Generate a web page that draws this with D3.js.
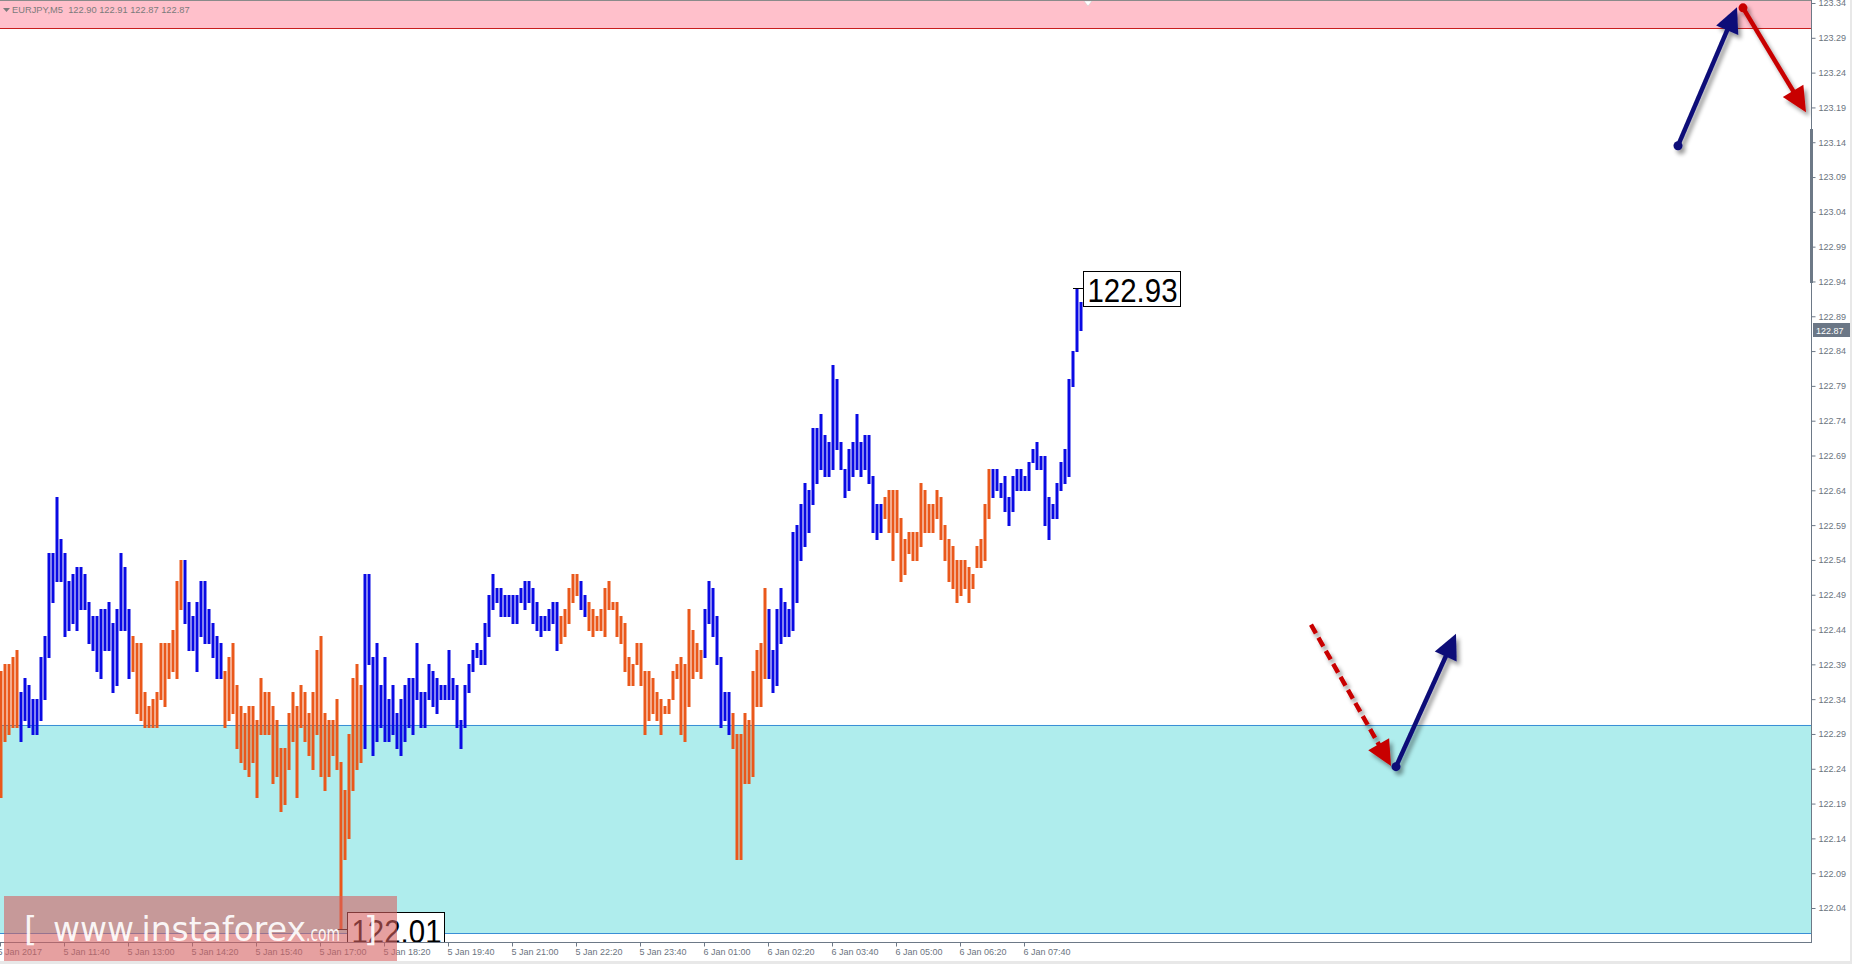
<!DOCTYPE html>
<html><head><meta charset="utf-8">
<script src="https://cdn.jsdelivr.net/npm/d3@7"></script>
<style>html,body{margin:0;padding:0;background:#fff;overflow:hidden}</style>
</head><body><svg id="c" width="1852" height="964"></svg>
<script>
// ---------------- data ----------------
const symbol = "EURJPY,M5";
const ohlc = [122.90, 122.91, 122.87, 122.87];
const barHigh = [
122.38,122.39,122.39,122.40,122.41,122.35,122.37,122.36,122.34,122.34,
122.40,122.43,122.55,122.55,122.63,122.57,122.55,122.51,122.52,122.53,
122.53,122.52,122.48,122.46,122.46,122.47,122.47,122.48,122.45,122.47,
122.55,122.53,122.47,122.43,122.42,122.42,122.35,122.33,122.34,122.35,
122.42,122.42,122.42,122.44,122.51,122.54,122.54,122.48,122.46,122.48,
122.51,122.51,122.47,122.45,122.43,122.42,122.38,122.40,122.42,122.36,
122.33,122.32,122.33,122.33,122.31,122.37,122.35,122.35,122.33,122.31,
122.27,122.27,122.32,122.35,122.33,122.36,122.35,122.32,122.35,122.41,
122.43,122.32,122.31,122.31,122.34,122.25,122.21,122.29,122.37,122.39,
122.36,122.52,122.52,122.40,122.42,122.36,122.40,122.34,122.36,122.32,
122.34,122.36,122.37,122.37,122.42,122.35,122.35,122.39,122.38,122.37,
122.36,122.36,122.41,122.37,122.36,122.31,122.36,122.39,122.41,122.42,
122.41,122.45,122.49,122.52,122.50,122.50,122.49,122.49,122.49,122.49,
122.50,122.51,122.51,122.50,122.48,122.46,122.46,122.47,122.48,122.48,
122.46,122.47,122.50,122.52,122.52,122.51,122.49,122.48,122.47,122.46,
122.47,122.50,122.51,122.48,122.48,122.46,122.45,122.40,122.39,122.42,
122.42,122.38,122.38,122.37,122.35,122.34,122.33,122.34,122.38,122.39,
122.40,122.39,122.47,122.44,122.42,122.41,122.47,122.51,122.50,122.46,
122.40,122.35,122.35,122.32,122.29,122.29,122.32,122.31,122.38,122.41,
122.42,122.50,122.47,122.41,122.47,122.50,122.48,122.47,122.58,122.59,
122.62,122.65,122.64,122.73,122.73,122.75,122.72,122.71,122.82,122.80,
122.71,122.67,122.70,122.71,122.75,122.71,122.72,122.72,122.66,122.62,
122.62,122.63,122.64,122.64,122.64,122.60,122.57,122.58,122.58,122.58,
122.65,122.64,122.62,122.62,122.64,122.63,122.59,122.57,122.56,122.54,
122.54,122.54,122.53,122.52,122.56,122.57,122.62,122.67,122.67,122.67,
122.65,122.66,122.63,122.66,122.67,122.67,122.66,122.68,122.70,122.71,
122.69,122.69,122.63,122.62,122.65,122.68,122.70,122.80,122.84,122.93,
122.91];
const barLow = [
122.20,122.28,122.29,122.30,122.30,122.28,122.31,122.30,122.29,122.29,
122.31,122.34,122.40,122.48,122.51,122.51,122.43,122.44,122.45,122.44,
122.47,122.47,122.42,122.41,122.38,122.37,122.41,122.41,122.35,122.36,
122.44,122.44,122.37,122.38,122.32,122.31,122.30,122.30,122.30,122.30,
122.34,122.33,122.37,122.38,122.37,122.47,122.45,122.41,122.41,122.38,
122.43,122.42,122.42,122.40,122.37,122.37,122.30,122.31,122.32,122.27,
122.25,122.24,122.23,122.25,122.20,122.29,122.29,122.29,122.22,122.23,
122.18,122.19,122.24,122.28,122.20,122.30,122.28,122.26,122.24,122.29,
122.23,122.21,122.23,122.26,122.24,122.01,122.11,122.14,122.21,122.24,
122.25,122.27,122.39,122.26,122.28,122.30,122.28,122.28,122.29,122.27,
122.26,122.28,122.30,122.29,122.34,122.30,122.30,122.34,122.33,122.32,
122.34,122.34,122.34,122.34,122.30,122.27,122.30,122.35,122.38,122.40,
122.39,122.39,122.43,122.47,122.48,122.46,122.46,122.46,122.45,122.45,
122.48,122.47,122.48,122.45,122.44,122.43,122.44,122.44,122.45,122.41,
122.42,122.43,122.45,122.48,122.49,122.47,122.46,122.44,122.43,122.44,
122.44,122.43,122.47,122.47,122.43,122.42,122.38,122.36,122.36,122.39,
122.36,122.29,122.31,122.32,122.31,122.29,122.32,122.32,122.34,122.37,
122.29,122.28,122.33,122.37,122.38,122.37,122.40,122.45,122.43,122.39,
122.30,122.31,122.29,122.27,122.11,122.11,122.22,122.22,122.23,122.33,
122.33,122.37,122.37,122.35,122.36,122.42,122.43,122.43,122.44,122.48,
122.54,122.56,122.58,122.62,122.65,122.67,122.66,122.66,122.67,122.70,
122.67,122.63,122.64,122.66,122.67,122.66,122.67,122.65,122.58,122.57,
122.58,122.60,122.58,122.54,122.58,122.51,122.52,122.55,122.54,122.54,
122.56,122.58,122.58,122.58,122.60,122.57,122.54,122.51,122.50,122.48,
122.49,122.50,122.48,122.50,122.53,122.53,122.54,122.60,122.63,122.64,
122.63,122.61,122.59,122.61,122.64,122.64,122.64,122.64,122.68,122.67,
122.67,122.59,122.57,122.60,122.60,122.64,122.65,122.66,122.79,122.84,
122.87];
// wave segments: first bar index of each swing and its direction
const segStart = [0, 5, 33, 46, 56, 91, 140, 145, 147, 176, 183, 192, 221, 248];
const segDir   = ["down","up","down","up","down","up","down","up","down","up","down","up","down","up"];
const timeLabels = ["5 Jan 2017","5 Jan 11:40","5 Jan 13:00","5 Jan 14:20","5 Jan 15:40","5 Jan 17:00",
  "5 Jan 18:20","5 Jan 19:40","5 Jan 21:00","5 Jan 22:20","5 Jan 23:40","6 Jan 01:00","6 Jan 02:20",
  "6 Jan 03:40","6 Jan 05:00","6 Jan 06:20","6 Jan 07:40"];
const barsPerLabel = 16;
const priceTickLabels = ["122.04","122.09","122.14","122.19","122.24","122.29","122.34","122.39","122.44",
  "122.49","122.54","122.59","122.64","122.69","122.74","122.79","122.84","122.89","122.94","122.99",
  "123.04","123.09","123.14","123.19","123.24","123.29","123.34"];
const resistanceZone = [123.304, 123.40];
const supportZone = [122.004, 122.303];
const currentPrice = 122.87;
const highMark = {bar: 269, price: 122.93, text: "122.93"};
const lowMark  = {bar: 85,  price: 122.01, text: "122.01"};
// forecast arrows [barFrom, priceFrom, barTo, priceTo]
const arrowUp1   = [419.5, 123.135, 434.25, 123.334];
const arrowDown1 = [435.75, 123.333, 451.5, 123.183];
const arrowDash  = [327.75, 122.447, 347.75, 122.244];
const arrowUp2   = [349, 122.243, 364, 122.434];

// ---------------- layout ----------------
const W = 1852, H = 964;
const plotR = 1811, plotB = 942;
const svg = d3.select("#c");
const x = d3.scaleLinear().domain([0, 270]).range([0, 1080]);
const y = d3.scaleLinear().domain([122.04, 123.34]).range([908, 3]);

const BLUE = "#0a0ae4", ORANGE = "#ea581b", NAVY = "#0d0d78", RED = "#c80000";
const AX = "#6d7987";

const defs = svg.append("defs");
defs.append("clipPath").attr("id","plot").append("rect").attr("x",0).attr("y",0).attr("width",plotR).attr("height",plotB);
const f = defs.append("filter").attr("id","sh").attr("x","-50%").attr("y","-50%").attr("width","200%").attr("height","200%");
f.append("feGaussianBlur").attr("in","SourceAlpha").attr("stdDeviation",2.2);
f.append("feOffset").attr("dx",3).attr("dy",4).attr("result","o");
f.append("feComponentTransfer").attr("in","o").attr("result","s").append("feFuncA").attr("type","linear").attr("slope",0.4);
const fm = f.append("feMerge"); fm.append("feMergeNode").attr("in","s"); fm.append("feMergeNode").attr("in","SourceGraphic");

svg.append("rect").attr("width",W).attr("height",H).attr("fill","#fff");
const plot = svg.append("g").attr("clip-path","url(#plot)");

// zones
plot.append("rect").attr("x",0).attr("width",plotR)
  .attr("y", y(resistanceZone[1])).attr("height", y(resistanceZone[0]) - y(resistanceZone[1]))
  .attr("fill","#ffc0cb");
plot.append("line").attr("x1",0).attr("x2",plotR).attr("y1",Math.round(y(resistanceZone[0]))+0.5).attr("y2",Math.round(y(resistanceZone[0]))+0.5)
  .attr("stroke","#c81e1e").attr("stroke-width",1);
plot.append("rect").attr("x",0).attr("width",plotR)
  .attr("y", y(supportZone[1])).attr("height", y(supportZone[0]) - y(supportZone[1]))
  .attr("fill","#afeded");
[supportZone[0], supportZone[1]].forEach(p => {
  const yy = Math.round(y(p)) + 0.5;
  plot.append("line").attr("x1",0).attr("x2",plotR).attr("y1",yy).attr("y2",yy).attr("stroke","#3a8fd6").attr("stroke-width",1);
});

// bars
function dirOf(i){ let k = 0; for (let s = 0; s < segStart.length; s++) if (i >= segStart[s]) k = s; return segDir[k]; }
const bars = barHigh.map((h,i) => ({i, h, l: barLow[i], d: dirOf(i)}));
plot.append("g").selectAll("rect").data(bars).join("rect")
  .attr("x", d => x(d.i) - 0.5).attr("width", 3)
  .attr("y", d => Math.round(y(d.h)))
  .attr("height", d => Math.max(1, Math.round(y(d.l)) - Math.round(y(d.h)) + 1))
  .attr("fill", d => d.d === "up" ? BLUE : ORANGE);

// high / low markers
function marker(m){
  const px = x(m.bar), py = Math.round(y(m.price)) + 0.5;
  plot.append("line").attr("x1", px - 3).attr("x2", px + 8).attr("y1", py).attr("y2", py).attr("stroke","#000");
  const bx = px + 7.5, by = py - 17;
  plot.append("rect").attr("x", bx).attr("y", by).attr("width", 97).attr("height", 35)
    .attr("fill","#fff").attr("stroke","#000").attr("stroke-width",1);
  plot.append("text").attr("x", bx + 4).attr("y", by + 30).attr("font-family","Liberation Sans, Arial, sans-serif")
    .attr("font-size", 33).attr("textLength", 90).attr("lengthAdjust","spacingAndGlyphs").attr("fill","#000").text(m.text);
}
marker(highMark);
marker(lowMark);

// chart-shift marker
svg.append("path").attr("d", `M${x(271)},1 l8,0 l-4,5 z`).attr("fill","#fff").attr("stroke","#c8c8c8").attr("stroke-width",0.5);

// top border
svg.append("line").attr("x1",0).attr("x2",plotR).attr("y1",0.5).attr("y2",0.5).attr("stroke","#8a8a8a");

// arrows
const ag = svg.append("g").attr("clip-path","url(#plot)");
function arrow(a, color, dashed, dot){
  const sx = x(a[0]), sy = y(a[1]), tx = x(a[2]), ty = y(a[3]);
  const dx = tx - sx, dy = ty - sy, len = Math.hypot(dx, dy);
  const ux = dx/len, uy = dy/len, nx = -uy, ny = ux;
  const L = 25, Wd = 12;
  const bx = tx - ux*L, by = ty - uy*L;
  const g = ag.append("g").attr("filter","url(#sh)");
  g.append("line").attr("x1",sx).attr("y1",sy).attr("x2",bx + ux*3).attr("y2",by + uy*3)
    .attr("stroke",color).attr("stroke-width",4.5).attr("stroke-dasharray", dashed ? "10,5" : null);
  g.append("path").attr("d", `M${tx},${ty} L${bx + nx*Wd},${by + ny*Wd} L${bx - nx*Wd},${by - ny*Wd} Z`).attr("fill",color);
  if (dot) g.append("circle").attr("cx",sx).attr("cy",sy).attr("r",4.5).attr("fill",color);
}
arrow(arrowUp1, NAVY, false, true);
arrow(arrowDown1, RED, false, true);
arrow(arrowDash, RED, true, false);
arrow(arrowUp2, NAVY, false, true);

// header
svg.append("path").attr("d","M3,8 l7,0 l-3.5,4 z").attr("fill","#7b7b7b");
svg.append("text").attr("x",12).attr("y",13).attr("font-family","Liberation Sans, Arial, sans-serif").attr("font-size",9.3)
  .attr("fill","#7b7b7b").attr("xml:space","preserve").text(symbol + "  " + ohlc.map(v => v.toFixed(2)).join(" "));

// y axis
svg.append("line").attr("x1",plotR+0.5).attr("x2",plotR+0.5).attr("y1",0).attr("y2",plotB+0.5).attr("stroke",AX);
svg.append("rect").attr("x",plotR-1).attr("y",129).attr("width",3).attr("height",154).attr("fill",AX);
const yAxis = svg.append("g").attr("transform",`translate(${plotR+0.5},0)`)
  .call(d3.axisRight(y).tickValues(priceTickLabels.map(Number)).tickFormat((d,i) => priceTickLabels[i]).tickSize(4).tickPadding(3));
yAxis.select(".domain").remove();
yAxis.selectAll("line").attr("stroke",AX);
yAxis.selectAll("text").attr("fill","#6b7480").attr("font-family","Liberation Sans, Arial, sans-serif").attr("font-size",9);

// current price label
const cp = Math.round(y(currentPrice));
svg.append("rect").attr("x",plotR+2).attr("y",cp-7).attr("width",37).attr("height",14).attr("fill","#6b7786");
svg.append("text").attr("x",plotR+5).attr("y",cp+3.5).attr("font-family","Liberation Sans, Arial, sans-serif").attr("font-size",9)
  .attr("fill","#fff").text(currentPrice.toFixed(2));

// x axis
svg.append("line").attr("x1",0).attr("x2",plotR+1).attr("y1",plotB+0.5).attr("y2",plotB+0.5).attr("stroke",AX);
const xAxis = svg.append("g").attr("transform",`translate(0,${plotB+0.5})`)
  .call(d3.axisBottom(x).tickValues(timeLabels.map((t,i) => i*barsPerLabel)).tickFormat((d,i) => timeLabels[i]).tickSize(4).tickPadding(2));
xAxis.select(".domain").remove();
xAxis.selectAll("line").attr("stroke",AX);
xAxis.selectAll("text").attr("fill","#6b7480").attr("font-family","Liberation Sans, Arial, sans-serif").attr("font-size",9)
  .attr("text-anchor","start").attr("x",(d,i) => i === 0 ? -3 : -1);

// watermark
const wm = svg.append("g");
wm.append("rect").attr("x",4).attr("y",896).attr("width",393).attr("height",68).attr("fill","rgb(213,97,97)").attr("fill-opacity",0.6);
const wt = wm.append("g").attr("fill","#fff").attr("fill-opacity",0.92).attr("font-family","DejaVu Sans, sans-serif");
wt.append("text").attr("x",24).attr("y",941).attr("font-size",34).text("[");
wt.append("text").attr("x",53).attr("y",941).attr("font-size",33).attr("textLength",253).attr("lengthAdjust","spacingAndGlyphs").text("www.instaforex");
wt.append("text").attr("x",306).attr("y",941).attr("font-size",21).attr("textLength",34).attr("lengthAdjust","spacingAndGlyphs").text(".com");
wt.append("text").attr("x",364).attr("y",941).attr("font-size",34).text("]");

// window edges
svg.append("rect").attr("x",0).attr("y",961).attr("width",W).attr("height",3).attr("fill","#e8e8e8");
svg.append("rect").attr("x",1850).attr("y",0).attr("width",2).attr("height",H).attr("fill","#e8e8e8");
</script>
</body></html>
